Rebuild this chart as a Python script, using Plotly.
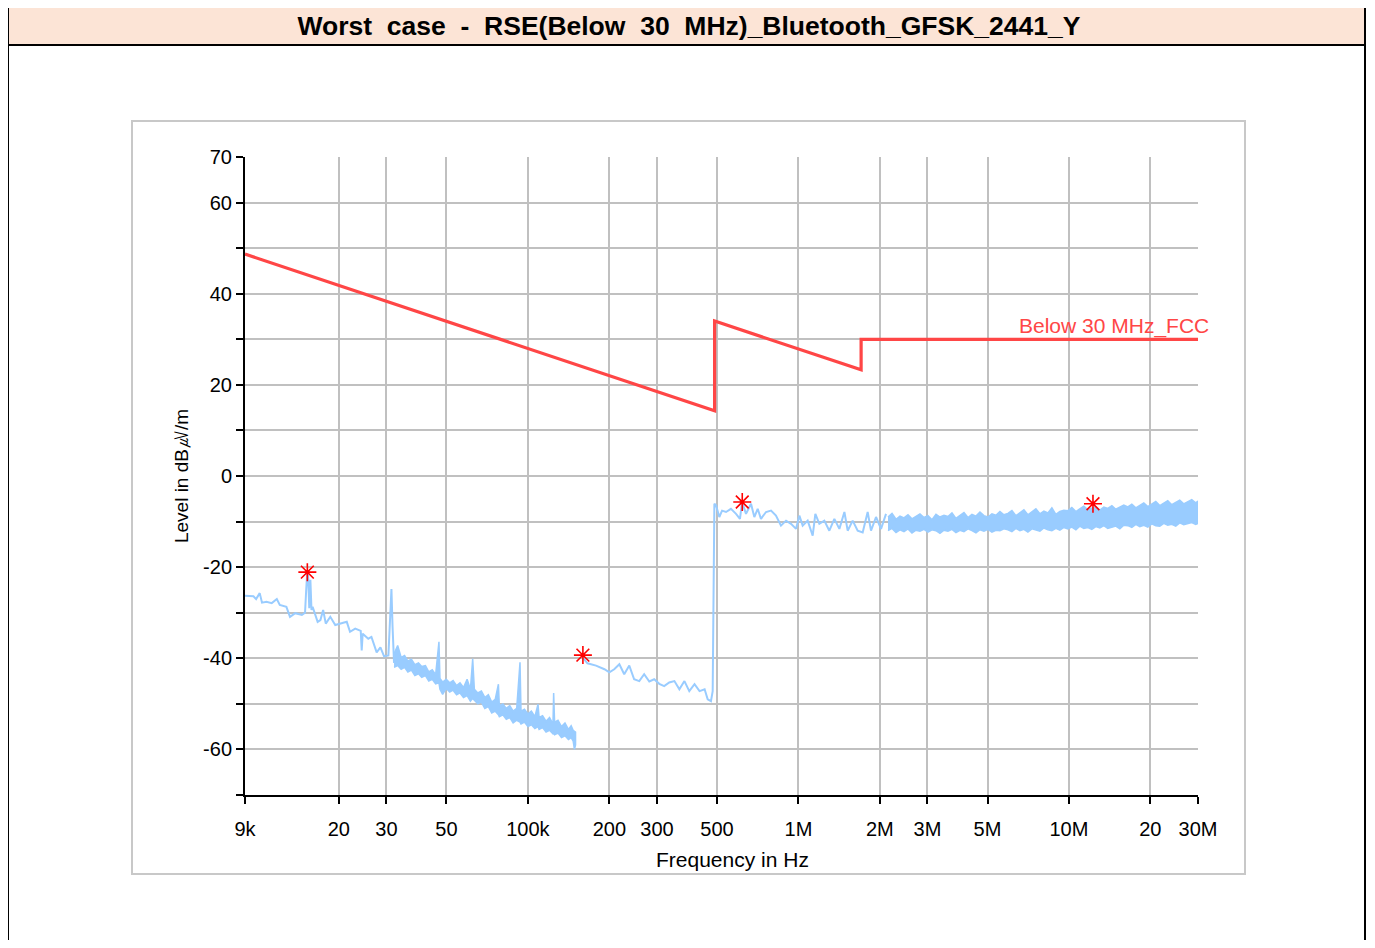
"""
RSE below 30 MHz — worst case scan, Bluetooth GFSK 2441, Y axis.
"""

import plotly.graph_objects as go

# ── Data ───────────────────────────────────────────────────────────────────
# low band scan, 9 kHz .. 32 kHz (single noisy line)
scan_lo_freq = [
    9000, 9670, 9890, 10200, 10400, 10800, 11300, 11800, 12100, 12800,
    13200, 13800, 14600, 15000, 15150, 15280, 15400, 15550, 15700, 15850,
    16000, 16200, 16700, 17100, 17500, 17900, 18600, 19400, 20200, 21400,
    22000, 23000, 24100, 24300, 24500, 25700, 26400, 27600, 28500, 29400,
    30500, 30900, 31300, 31600, 32000,
]
scan_lo_level = [
    -26.3, -26.4, -27.0, -25.7, -27.8, -27.6, -27.9, -27.0, -28.3, -28.7,
    -30.9, -30.1, -30.5, -30.0, -25.0, -21.3, -21.8, -29.0, -22.8, -29.4,
    -28.7, -29.8, -32.0, -31.6, -29.4, -32.4, -30.9, -32.7, -32.4, -32.0,
    -34.2, -33.5, -34.0, -38.3, -34.6, -35.7, -35.3, -38.7, -37.6, -39.6,
    -39.4, -30.9, -24.8, -33.1, -41.0,
]

# 32 kHz .. 150 kHz: noise band, upper / lower edge per frequency
lo_band_freq = [
    32000, 33000, 34000, 35000, 36000, 37100, 38200, 39400, 40500, 41800,
    43000, 44300, 45600, 46900, 47300, 48400, 49900, 51400, 52900, 54500,
    56100, 57800, 59600, 61300, 62500, 63400, 65300, 67300, 69300, 71400,
    73500, 75700, 77800, 78400, 80800, 83200, 85700, 88200, 90900, 93500,
    94300, 97100, 100000, 103000, 106100, 109000, 110000, 113300, 116700, 120200,
    123800, 124500, 125500, 129200, 133100, 137100, 141200, 144500, 147000, 148600,
    150000,
]
lo_band_hi = [
    -39.0, -37.2, -39.8, -39.4, -40.6, -40.2, -41.4, -41.0, -41.8, -41.6,
    -43.0, -42.5, -43.6, -36.4, -44.4, -45.2, -44.6, -45.4, -44.9, -46.0,
    -45.4, -46.4, -44.6, -46.8, -40.1, -46.8, -47.6, -47.2, -48.6, -48.0,
    -49.6, -49.0, -45.7, -50.4, -50.0, -51.0, -50.4, -51.6, -51.0, -40.9,
    -51.6, -51.2, -52.2, -51.6, -52.8, -50.1, -53.0, -52.6, -53.8, -53.0,
    -54.4, -47.6, -54.0, -53.6, -55.0, -54.2, -55.6, -54.8, -55.8, -56.0,
    -56.2,
]
lo_band_lo = [
    -42.0, -41.6, -42.4, -42.0, -43.0, -42.6, -43.8, -43.4, -44.2, -43.8,
    -45.0, -44.6, -45.6, -45.4, -46.8, -47.9, -46.6, -47.4, -47.0, -48.0,
    -47.6, -48.6, -48.2, -49.4, -48.8, -49.2, -50.0, -49.6, -51.0, -50.6,
    -52.0, -51.6, -52.4, -52.8, -52.4, -53.4, -53.0, -54.2, -53.6, -54.0,
    -54.4, -54.0, -55.0, -54.6, -55.4, -55.0, -55.6, -55.2, -56.2, -55.8,
    -56.6, -56.4, -56.8, -56.4, -57.4, -57.0, -57.8, -57.4, -58.2, -60.0,
    -59.0,
]

# 150 kHz .. ~2.1 MHz
scan_mid_freq = [
    159400, 166000, 178600, 191800, 200000, 208500, 217800, 227000, 237000, 247000,
    258000, 269000, 281000, 293000, 306000, 319000, 333000, 348000, 363000, 379000,
    395000, 413000, 431000, 450000, 462000, 475000, 482000, 489000,
    495800, 510000, 522000, 540000, 563000, 588000, 608000, 619000, 640000, 668000,
    687000, 707000, 727000, 759000, 792000, 826000, 862000, 900000, 939000, 980000,
    1008000, 1037000, 1082000, 1129000, 1155000, 1195000, 1247000, 1301000, 1358000, 1417000,
    1479000, 1521000, 1587000, 1656000, 1728000, 1803000, 1855000, 1936000, 2020000, 2108000,
]
scan_mid_level = [
    -39.8, -41.1, -41.6, -42.4, -43.1, -42.4, -41.3, -43.5, -41.6, -44.6,
    -45.0, -43.5, -45.1, -44.6, -45.6, -46.1, -45.3, -45.0, -46.8, -45.0,
    -47.2, -45.7, -47.2, -46.8, -49.0, -49.4, -47.2, -6.1,
    -6.4, -9.0, -7.6, -7.9, -7.2, -8.3, -9.4, -5.7, -8.3, -6.1,
    -9.0, -7.2, -9.4, -7.9, -7.6, -8.7, -10.9, -9.8, -10.5, -11.6,
    -8.7, -10.9, -9.8, -13.1, -8.3, -10.5, -9.8, -12.0, -9.4, -11.6,
    -7.9, -12.0, -9.8, -12.0, -12.4, -7.9, -12.0, -9.0, -11.6, -8.3,
]

# 2.1 MHz .. 30 MHz: dense noise band, upper / lower edge per frequency
band_freq = [
    2.144e6, 2.218e6, 2.295e6, 2.374e6, 2.456e6, 2.541e6, 2.629e6, 2.720e6, 2.814e6, 2.912e6,
    3.013e6, 3.117e6, 3.225e6, 3.336e6, 3.452e6, 3.571e6, 3.695e6, 3.823e6, 3.955e6, 4.092e6,
    4.234e6, 4.380e6, 4.532e6, 4.689e6, 4.851e6, 5.019e6, 5.192e6, 5.372e6, 5.558e6, 5.750e6,
    5.949e6, 6.155e6, 6.368e6, 6.588e6, 6.816e6, 7.052e6, 7.296e6, 7.548e6, 7.810e6, 8.080e6,
    8.359e6, 8.649e6, 8.948e6, 9.258e6, 9.578e6, 9.910e6, 10.25e6, 10.61e6, 10.97e6, 11.35e6,
    11.75e6, 12.15e6, 12.57e6, 13.01e6, 13.46e6, 13.92e6, 14.41e6, 14.90e6, 15.42e6, 15.95e6,
    16.51e6, 17.08e6, 17.67e6, 18.28e6, 18.91e6, 19.57e6, 20.24e6, 20.94e6, 21.67e6, 22.42e6,
    23.19e6, 23.99e6, 24.82e6, 25.68e6, 26.57e6, 27.49e6, 28.44e6, 29.42e6, 30.0e6,
]
band_hi = [
    -9.0, -8.2, -9.5, -8.8, -9.2, -8.5, -9.4, -8.9, -8.3, -9.1, -8.7, -9.6, -8.4, -9.0, -8.6,
    -8.9, -8.1, -9.3, -8.6, -8.0, -9.1, -8.4, -8.8, -7.9, -8.7, -9.0, -8.3, -8.6, -7.8, -8.5,
    -8.2, -7.6, -8.7, -8.0, -7.4, -8.5, -7.9, -7.2, -8.3, -7.7, -8.1, -7.0, -8.4, -7.8, -7.5,
    -7.6, -6.9, -7.8, -7.2, -6.6, -7.4, -7.0, -6.7, -7.5, -6.8, -7.1, -6.5, -7.3, -6.9, -6.4,
    -6.8, -6.2, -7.0, -6.4, -5.9, -6.7, -6.1, -5.6, -6.5, -6.0, -5.4, -6.3, -5.8, -5.3, -6.1,
    -5.7, -5.2, -5.9, -5.5,
]
band_lo = [
    -12.0, -11.5, -12.4, -11.8, -12.2, -11.6, -12.5, -11.9, -12.1, -11.7, -12.3, -11.8, -12.0, -12.6, -11.9,
    -12.1, -11.7, -12.4, -11.9, -12.2, -11.6, -12.0, -12.5, -11.8, -12.1, -11.7, -12.3, -11.9, -12.0, -11.6,
    -11.8, -12.2, -11.5, -12.0, -11.7, -12.3, -11.6, -11.9, -12.1, -11.4, -11.8, -12.0, -11.5, -11.9, -11.3,
    -11.6, -11.2, -11.8, -11.0, -11.5, -11.3, -11.7, -11.1, -11.4, -10.9, -11.5, -11.2, -11.0, -11.6, -10.8,
    -10.9, -11.3, -10.6, -11.1, -10.8, -11.2, -10.5, -10.9, -11.0, -10.4, -10.8, -10.6, -11.0, -10.3, -10.7,
    -10.5, -10.2, -10.6, -10.4,
]

# FCC 15.209 limit (below 30 MHz)
limit_freq = [9e3, 490e3, 490e3, 1.705e6, 1.705e6, 30e6]
limit_level = [48.7, 14.3, 34.0, 23.3, 30.0, 30.0]

# peak markers
peak_freq = [15300, 159700, 620000, 12270000]
peak_level = [-21.1, -39.3, -5.7, -6.1]

x_tickvals = [9e3, 2e4, 3e4, 5e4, 1e5, 2e5, 3e5, 5e5, 1e6, 2e6, 3e6, 5e6, 1e7, 2e7, 3e7]
x_ticktext = ['9k', '20', '30', '50', '100k', '200', '300', '500',
              '1M', '2M', '3M', '5M', '10M', '20', '30M']
y_tickvals = [70, 60, 50, 40, 30, 20, 10, 0, -10, -20, -30, -40, -50, -60, -70]
y_ticktext = ['70', '60', '', '40', '', '20', '', '0', '', '-20', '', '-40', '', '-60', '']

# ── Style ──────────────────────────────────────────────────────────────────
C = {
    'limit': '#FF4646',
    'scan': '#99CCFF',
    'peak': '#FF0000',
    'grid': '#C0C0C0',
    'axis': '#000000',
    'title_bg': '#FCE4D6',
    'panel': '#C8C8C8',
}
FONT = 'Arial, Liberation Sans, sans-serif'

# the page body adds an 8px margin, so everything is laid out 8px up/left
OFF = 8
W, H = 1375 - 2 * OFF, 948 - 2 * OFF
PL, PR, PT, PB = 245 - OFF, 1198 - OFF, 157 - OFF, 795 - OFF   # plot area


def px(xp):
    """reference pixel x -> paper fraction"""
    return (xp - OFF - PL) / (PR - PL)


def py(yp):
    """reference pixel y -> paper fraction"""
    return (PB - (yp - OFF)) / (PB - PT)


def envelope(freq, hi, lo):
    return freq + freq[::-1], hi + lo[::-1]


fig = go.Figure()

fig.add_trace(go.Scatter(
    x=scan_lo_freq, y=scan_lo_level, mode='lines',
    line=dict(color=C['scan'], width=2), hoverinfo='skip',
))
for f, hi, lo in [(lo_band_freq, lo_band_hi, lo_band_lo), (band_freq, band_hi, band_lo)]:
    ex, ey = envelope(f, hi, lo)
    fig.add_trace(go.Scatter(
        x=ex, y=ey, mode='lines', fill='toself', fillcolor=C['scan'],
        line=dict(color=C['scan'], width=1.5), hoverinfo='skip',
    ))
fig.add_trace(go.Scatter(
    x=scan_mid_freq, y=scan_mid_level, mode='lines',
    line=dict(color=C['scan'], width=2), hoverinfo='skip',
))
fig.add_trace(go.Scatter(
    x=limit_freq, y=limit_level, mode='lines',
    line=dict(color=C['limit'], width=3.2), hoverinfo='skip',
))
fig.add_trace(go.Scatter(
    x=peak_freq, y=peak_level, mode='markers',
    marker=dict(symbol='asterisk-open', size=15, color=C['peak'],
                line=dict(color=C['peak'], width=1.6)),
))

fig.add_annotation(
    x=7.477, y=30, xref='x', yref='y', text='Below 30 MHz_FCC',
    showarrow=False, xanchor='right', yanchor='bottom', xshift=13, yshift=-1,
    font=dict(family=FONT, size=21, color=C['limit']),
)
# x axis title sits a little right of the plot centre in the original
fig.add_annotation(
    x=px(732), y=py(859), xref='paper', yref='paper', text='Frequency in Hz',
    showarrow=False, xanchor='center', yanchor='middle',
    font=dict(family=FONT, size=21, color='black'),
)

shapes = [
    # outer frame
    dict(type='rect', xref='paper', yref='paper',
         x0=px(8), x1=px(1365), y0=py(980), y1=py(7),
         line=dict(color='black', width=2), layer='below'),
    # title bar
    dict(type='rect', xref='paper', yref='paper',
         x0=px(8), x1=px(1365), y0=py(45), y1=py(7),
         fillcolor=C['title_bg'], line=dict(color='black', width=2), layer='below'),
    # chart panel
    dict(type='rect', xref='paper', yref='paper',
         x0=px(132), x1=px(1245), y0=py(874), y1=py(121),
         line=dict(color=C['panel'], width=2), layer='below'),
]

axis_common = dict(
    showline=True, linecolor=C['axis'], linewidth=2,
    ticks='outside', ticklen=7, tickwidth=2, tickcolor=C['axis'],
    zeroline=False,
    tickfont=dict(family=FONT, size=20, color='black'),
)

fig.update_layout(
    width=W, height=H, autosize=False,
    paper_bgcolor='white', plot_bgcolor='white',
    showlegend=False,
    margin=dict(l=PL, r=W - PR, t=PT, b=H - PB, pad=0),
    font=dict(family=FONT, color='black'),
    title=dict(
        text='<b>Worst  case  -  RSE(Below  30  MHz)_Bluetooth_GFSK_2441_Y</b>',
        x=(689 - OFF) / W, xref='container', xanchor='center',
        y=1 - (26 - OFF) / H, yref='container', yanchor='middle',
        font=dict(family=FONT, size=26.5, color='black'),
    ),
    xaxis=dict(
        type='log', range=[3.9542, 7.4771],
        tickvals=x_tickvals, ticktext=x_ticktext,
        showgrid=True, gridcolor=C['grid'], gridwidth=2,
        ticklabelstandoff=8,
        **axis_common,
    ),
    yaxis=dict(
        range=[-70, 70],
        tickvals=y_tickvals, ticktext=y_ticktext,
        showgrid=True, gridcolor=C['grid'], gridwidth=2,
        title=dict(text='Level in dB㎶/m', standoff=9,
                   font=dict(family=FONT, size=19, color='black')),
        **axis_common,
    ),
    # overlay axes only for the inner half of the crossing ticks
    xaxis2=dict(type='log', range=[3.9542, 7.4771], overlaying='x', anchor='y',
                side='bottom', tickvals=x_tickvals, showticklabels=False,
                ticks='inside', ticklen=6, tickwidth=2, tickcolor=C['axis'],
                showgrid=False, zeroline=False, showline=False),
    yaxis2=dict(range=[-70, 70], overlaying='y', anchor='x', side='left',
                tickvals=y_tickvals, showticklabels=False,
                ticks='inside', ticklen=8, tickwidth=2, tickcolor=C['axis'],
                showgrid=False, zeroline=False, showline=False),
    shapes=shapes,
)

fig.write_html('out.html')
